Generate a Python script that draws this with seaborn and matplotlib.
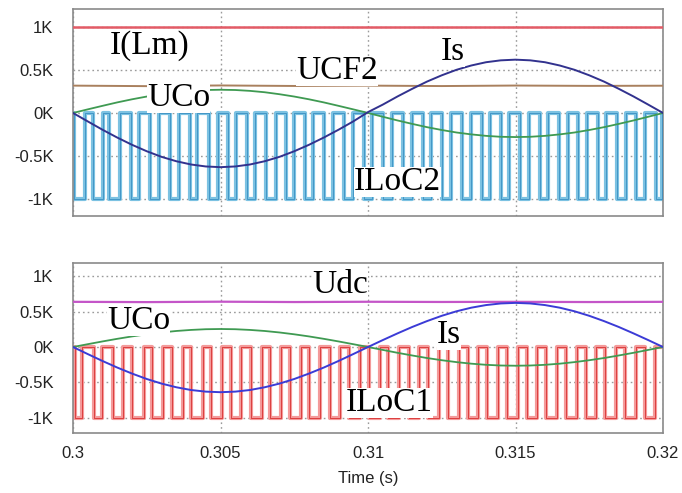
import numpy as np
import pandas as pd
import matplotlib
matplotlib.use("Agg")
import matplotlib.pyplot as plt
import seaborn as sns

# ---------------- data ----------------
t_start, t_end = 0.300, 0.320
x_ticks = [0.300, 0.305, 0.310, 0.315, 0.320]
x_tick_labels = ["0.3", "0.305", "0.31", "0.315", "0.32"]
y_ticks = [1000, 500, 0, -500, -1000]
y_tick_labels = ["1K", "0.5K", "0K", "-0.5K", "-1K"]

# sample times for the sinusoidal traces (every 0.5 ms)
wave_time = [0.3000, 0.3005, 0.3010, 0.3015, 0.3020, 0.3025, 0.3030, 0.3035, 0.3040, 0.3045,
             0.3050, 0.3055, 0.3060, 0.3065, 0.3070, 0.3075, 0.3080, 0.3085, 0.3090, 0.3095,
             0.3100, 0.3105, 0.3110, 0.3115, 0.3120, 0.3125, 0.3130, 0.3135, 0.3140, 0.3145,
             0.3150, 0.3155, 0.3160, 0.3165, 0.3170, 0.3175, 0.3180, 0.3185, 0.3190, 0.3195,
             0.3200]

# top panel
is_top = [0, -98, -195, -286, -370, -445, -510, -561, -599, -622,
          -630, -622, -599, -561, -510, -445, -370, -286, -195, -98,
          10, 97, 192, 281, 365, 438, 502, 552, 590, 612,
          620, 612, 590, 552, 502, 438, 365, 281, 192, 97, 0]
uco_top = [0, 42, 83, 123, 159, 191, 218, 241, 257, 267,
           270, 267, 257, 241, 218, 191, 159, 123, 83, 42,
           0, -44, -87, -127, -165, -198, -227, -249, -266, -277,
           -280, -277, -266, -249, -227, -198, -165, -127, -87, -44, 0]
ilm_level = [1000, 1000]
ucf2_level = [318, 312, 320, 314, 318, 313, 319, 315, 317]
ucf2_time = [0.3000, 0.3025, 0.3050, 0.3075, 0.3100, 0.3125, 0.3150, 0.3175, 0.3200]
iloc2_edges = [0.30005, 0.30040, 0.30068, 0.30100, 0.30122, 0.30160, 0.30195, 0.30225,
               0.30262, 0.30290, 0.30330, 0.30358, 0.30395, 0.30420, 0.30462, 0.30490,
               0.30525, 0.30552, 0.30590, 0.30618, 0.30655, 0.30688, 0.30722, 0.30750,
               0.30788, 0.30815, 0.30852, 0.30880, 0.30920, 0.30948, 0.30985, 0.31015,
               0.31050, 0.31080, 0.31118, 0.31148, 0.31185, 0.31215, 0.31252, 0.31282,
               0.31318, 0.31348, 0.31385, 0.31412, 0.31450, 0.31478, 0.31515, 0.31545,
               0.31582, 0.31610, 0.31648, 0.31678, 0.31712, 0.31742, 0.31780, 0.31808,
               0.31845, 0.31875, 0.31910, 0.31940, 0.31975, 0.31995]

# bottom panel
is_bot = [0, -100, -198, -291, -376, -453, -518, -570, -609, -632,
          -640, -632, -609, -570, -518, -453, -376, -291, -198, -100,
          0, 98, 193, 284, 367, 442, 506, 557, 594, 617,
          625, 617, 594, 557, 506, 442, 367, 284, 193, 98, 0]
uco_bot = [0, 40, 79, 116, 150, 180, 206, 227, 242, 252,
           255, 252, 242, 227, 206, 180, 150, 116, 79, 40,
           0, -41, -82, -120, -156, -187, -214, -236, -252, -262,
           -265, -262, -252, -236, -214, -187, -156, -120, -82, -41, 0]
udc_level = [640, 636, 642, 637, 641, 638, 640, 637, 640]
iloc1_edges = [0.30008, 0.30030, 0.30072, 0.30098, 0.30135, 0.30170, 0.30200, 0.30240,
               0.30268, 0.30305, 0.30335, 0.30372, 0.30400, 0.30440, 0.30468, 0.30505,
               0.30535, 0.30570, 0.30602, 0.30640, 0.30668, 0.30705, 0.30735, 0.30772,
               0.30800, 0.30838, 0.30870, 0.30905, 0.30935, 0.30972, 0.31002, 0.31040,
               0.31068, 0.31105, 0.31138, 0.31172, 0.31202, 0.31240, 0.31270, 0.31308,
               0.31338, 0.31372, 0.31405, 0.31440, 0.31470, 0.31508, 0.31538, 0.31572,
               0.31605, 0.31640, 0.31670, 0.31708, 0.31738, 0.31772, 0.31805, 0.31840,
               0.31870, 0.31908, 0.31938, 0.31972]
pulse_high, pulse_low = 0, -1000


def pulse_frame(edges):
    xs = [t_start] + list(edges) + [t_end]
    ys = [pulse_high if i % 2 == 0 else pulse_low for i in range(len(xs))]
    ys[-1] = ys[-2]
    return pd.DataFrame({"t": xs, "v": ys})


# ---------------- figure ----------------
sns.set_theme(style="white")
plt.rcParams["font.family"] = ["Liberation Sans", "DejaVu Sans"]

fig = plt.figure(figsize=(6.82, 4.93), dpi=100)
ax1 = fig.add_axes([73 / 682, 1 - 216 / 493, 590 / 682, 207 / 493])
ax2 = fig.add_axes([73 / 682, 1 - 433 / 493, 590 / 682, 170 / 493])

serif = ["Liberation Serif", "DejaVu Serif"]
label_kw = dict(fontsize=24, family=serif, color="black", ha="left", va="center", zorder=10,
                bbox=dict(facecolor="white", edgecolor="none", pad=0.0))

# ---- top panel ----
p2 = pulse_frame(iloc2_edges)
sns.lineplot(data=p2, x="t", y="v", ax=ax1, estimator=None, sort=False, drawstyle="steps-post",
             color="#7cc2e2", lw=3.0, zorder=2)
sns.lineplot(data=p2, x="t", y="v", ax=ax1, estimator=None, sort=False, drawstyle="steps-post",
             color="#3a8fc2", lw=0.6, zorder=3)
sns.lineplot(x=[t_start, t_end], y=ilm_level, ax=ax1, color="#e35b66", lw=1.8, zorder=4)
sns.lineplot(x=ucf2_time, y=ucf2_level, ax=ax1, color="#a9805e", lw=1.4, zorder=4)
sns.lineplot(x=wave_time, y=uco_top, ax=ax1, color="#3f9a52", lw=1.3, zorder=5)
sns.lineplot(x=wave_time, y=is_top, ax=ax1, color="#32328e", lw=1.4, zorder=6)

ax1.text(0.30125, 780, "I(Lm)", **label_kw)
ax1.text(0.30757, 490, "UCF2", **label_kw)
ax1.text(0.30250, 175, "UCo", **label_kw)
ax1.text(0.31247, 710, "Is", **label_kw)
ax1.text(0.30953, -800, "ILoC2", **label_kw)
ax1.set_ylim(-1198, 1209)

# ---- bottom panel ----
p1 = pulse_frame(iloc1_edges)
sns.lineplot(data=p1, x="t", y="v", ax=ax2, estimator=None, sort=False, drawstyle="steps-post",
             color="#f49a9a", lw=3.0, zorder=2)
sns.lineplot(data=p1, x="t", y="v", ax=ax2, estimator=None, sort=False, drawstyle="steps-post",
             color="#d83030", lw=0.6, zorder=3)
sns.lineplot(x=ucf2_time, y=udc_level, ax=ax2, color="#c455c8", lw=1.6, zorder=4)
sns.lineplot(x=wave_time, y=uco_bot, ax=ax2, color="#3f9a52", lw=1.3, zorder=5)
sns.lineplot(x=wave_time, y=is_bot, ax=ax2, color="#3b3bd6", lw=1.4, zorder=6)

ax2.text(0.30811, 880, "Udc", **label_kw)
ax2.text(0.30115, 370, "UCo", **label_kw)
ax2.text(0.31233, 170, "Is", **label_kw)
ax2.text(0.30926, -790, "ILoC1", **label_kw)
ax2.set_ylim(-1218, 1190)

for ax in (ax1, ax2):
    ax.set_xlim(t_start, t_end)
    ax.set_xticks(x_ticks)
    ax.set_yticks(y_ticks)
    ax.set_yticklabels(y_tick_labels)
    ax.grid(True, linestyle=(0, (1.2, 2.2)), color="#9a9a9a", lw=1.0, zorder=0)
    ax.set_axisbelow(True)
    ax.tick_params(axis="both", length=0, labelsize=12, colors="#222222")
    ax.tick_params(axis="y", pad=14)
    ax.tick_params(axis="x", pad=9)
    ax.set_xlabel("")
    ax.set_ylabel("")
    for s in ax.spines.values():
        s.set_color("#8a8a8a")
        s.set_linewidth(1.2)

ax1.set_xticklabels([])
ax2.set_xticklabels(x_tick_labels)
fig.text(368 / 682, 1 - 478 / 493, "Time (s)", ha="center", va="center", fontsize=12, color="#222222")

fig.savefig("out.png", dpi=100, facecolor="white")
